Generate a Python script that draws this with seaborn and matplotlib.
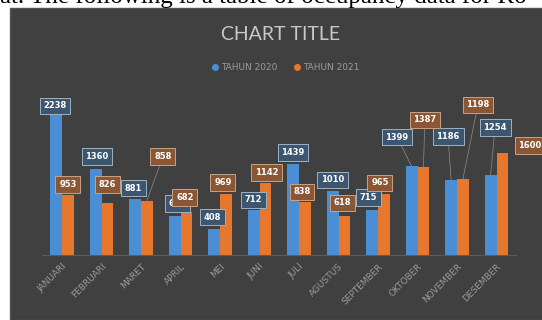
import matplotlib
matplotlib.use("Agg")
import matplotlib.pyplot as plt
import seaborn as sns
import pandas as pd
from matplotlib.patches import Rectangle
from matplotlib.lines import Line2D

# ---- data ----
months = ["JANUARI", "FEBRUARI", "MARET", "APRIL", "MEI", "JUNI", "JULI",
          "AGUSTUS", "SEPTEMBER", "OKTOBER", "NOVEMBER", "DESEMBER"]
tahun_2020 = [2238, 1360, 881, 609, 408, 712, 1439, 1010, 715, 1399, 1186, 1254]
tahun_2021 = [953, 826, 858, 682, 969, 1142, 838, 618, 965, 1387, 1198, 1600]
series_names = ["TAHUN 2020", "TAHUN 2021"]
chart_title = "CHART TITLE"
page_text = "at. The following is a table of occupancy data for Ro"

# ---- label placement (pixel offsets from bar top; styles only) ----
off_2020 = [(-1, 7), (1.5, 12), (-2, 11), (2.5, 13), (-2, 12), (0, 10), (0, 11),
            (0, 11), (-4, 12), (-14.5, 29), (-3, 43), (4.5, 48)]
off_2021 = [(0, 10), (0, 18), (16, 44), (-1.5, 14), (-3, 11), (1.5, 10), (-3, 10),
            (-2, 13), (-4, 11), (1.5, 47), (15, 74), (27.5, 8)]
leader_2020 = [False]*9 + [True, True, True]
leader_2021 = [False, False, True] + [False]*6 + [True, True, False]

blue = "#4a8fd6"
orange = "#e8772e"

df = pd.DataFrame({
    "bulan": months * 2,
    "nilai": tahun_2020 + tahun_2021,
    "tahun": [series_names[0]] * len(months) + [series_names[1]] * len(months),
})

W, H = 542, 320
fig = plt.figure(figsize=(W / 100, H / 100), dpi=100, facecolor="white")

# document text cut at the top
fig.text(0 / W, 1 - 2.5 / H, page_text, ha="left", va="baseline",
         fontsize=18, family="Liberation Serif", color="black")

# dark chart panel
fig.patches.append(Rectangle((10 / W, 0), (W - 9) / W, 312 / H,
                             transform=fig.transFigure, facecolor="#404040",
                             edgecolor="#555555", lw=1.0, zorder=-5))

ax = fig.add_axes([42.25 / W, (H - 255) / H, 474 / W, 165 / H])
ax.set_zorder(2)
ax.patch.set_visible(False)
sns.barplot(data=df, x="bulan", y="nilai", hue="tahun", palette=[blue, orange],
            width=0.6, saturation=1, linewidth=0, legend=False, ax=ax)
ax.set_xlim(-0.5, 11.5)
ax.set_ylim(0, 2600)
ax.set_xlabel("")
ax.set_ylabel("")
ax.set_yticks([])
for s in ["top", "right", "left"]:
    ax.spines[s].set_visible(False)
ax.spines["bottom"].set_color("#5c5c5c")
ax.spines["bottom"].set_linewidth(0.8)
ax.tick_params(axis="x", length=0, pad=5)
ax.set_xticks(range(len(months)))
ax.set_xticklabels(months, rotation=45, ha="right", rotation_mode="anchor",
                   color="#9a9a9a", fontsize=6.5)

styles = [
    dict(fc="#3d566f", ec="#9fb2c4"),
    dict(fc="#8a5634", ec="#c9a284"),
]
offsets = [off_2020, off_2021]
leaders = [leader_2020, leader_2021]
values = [tahun_2020, tahun_2021]
for k, cont in enumerate(ax.containers):
    for i, bar in enumerate(cont):
        x = bar.get_x() + bar.get_width() / 2
        top = bar.get_height()
        dx, dy = offsets[k][i]
        kw = {}
        if leaders[k][i]:
            kw["arrowprops"] = dict(arrowstyle="-", color="#8c8c8c", lw=0.5,
                                    shrinkA=0, shrinkB=0)
        ax.annotate(str(values[k][i]), xy=(x, top), xytext=(dx * 0.72, dy * 0.72),
                    textcoords="offset points", ha="center", va="center",
                    fontsize=6, fontweight="bold", color="white",
                    bbox=dict(boxstyle="square,pad=0.45", lw=0.7, **styles[k]),
                    annotation_clip=False, zorder=5, **kw)

fig.text(281 / W, 1 - 34 / H, chart_title, ha="center", va="center",
         fontsize=14, color="#c8c8c8", family="Lato")

handles = [Line2D([], [], marker="o", ls="", color=c, markersize=4)
           for c in (blue, orange)]
fig.legend(handles, series_names, loc="center", bbox_to_anchor=(285 / W, 1 - 68 / H),
           ncol=2, frameon=False, fontsize=6.5, labelcolor="#9a9a9a",
           handletextpad=0.2, columnspacing=1.6, handlelength=1.0)

fig.savefig("out.png", dpi=100, facecolor="white")
